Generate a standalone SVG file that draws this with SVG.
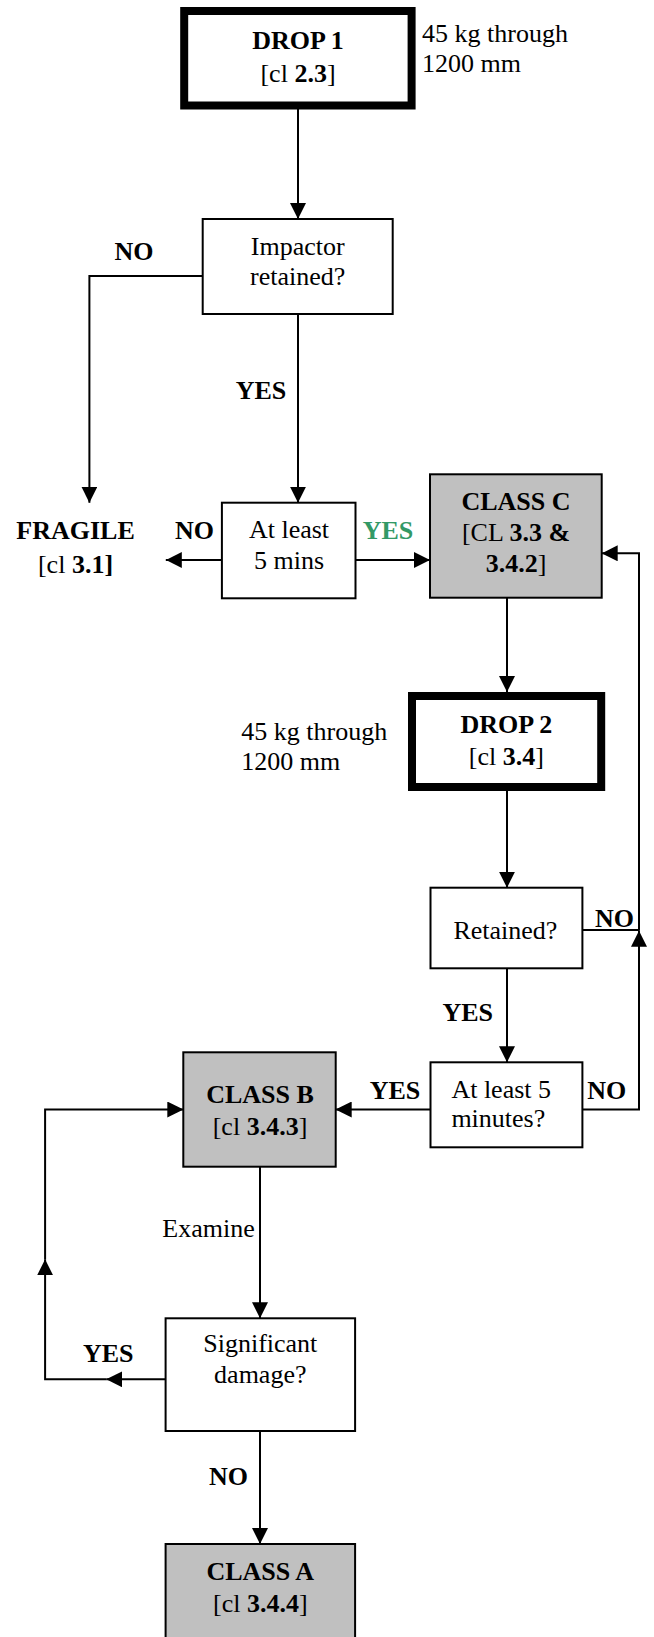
<svg xmlns="http://www.w3.org/2000/svg" width="654" height="1637" viewBox="0 0 654 1637">
<style>
text{font-family:"Liberation Serif","Times New Roman",serif;font-size:26px;fill:#000}
.b{font-weight:bold}
.c{text-anchor:middle}
.g{fill:#339966}
.box{fill:#fff;stroke:#000;stroke-width:2}
.thick{fill:#fff;stroke:#000;stroke-width:8}
.grey{fill:#c0c0c0;stroke:#000;stroke-width:2}
.ln{fill:none;stroke:#000;stroke-width:2}
.arr{marker-end:url(#ah)}
</style>
<defs>
<marker id="ah" viewBox="0 0 16 16" refX="16" refY="8" markerWidth="16" markerHeight="16" markerUnits="userSpaceOnUse" orient="auto">
<path d="M0,0 L16,8 L0,16 z" fill="#000"/>
</marker>
</defs>
<rect width="654" height="1637" fill="#fff"/>
<g id="connectors">
<path class="ln arr" d="M298,109 V219"/>
<path class="ln arr" d="M202.7,276 H89.4 V502.7"/>
<path class="ln arr" d="M298,314 V502.7"/>
<path class="ln arr" d="M221.9,560 H165.8"/>
<path class="ln arr" d="M355.5,560 H430"/>
<path class="ln arr" d="M507,597.7 V692"/>
<path class="ln arr" d="M507,791 V887.7"/>
<path class="ln" d="M582.4,930 H639"/>
<path class="ln arr" d="M507,968.3 V1062.3"/>
<path class="ln arr" d="M582.4,1109.5 H639 V930.7"/>
<path class="ln arr" d="M639,930.7 V553.3 H601.7"/>
<path class="ln arr" d="M430.5,1109.5 H335.7"/>
<path class="ln arr" d="M260,1166.7 V1318.3"/>
<path class="ln arr" d="M165.6,1379.3 H106.2"/>
<path class="ln arr" d="M106.2,1379.3 H45.1 V1259.3"/>
<path class="ln arr" d="M45.1,1259.3 V1109.5 H183.3"/>
<path class="ln arr" d="M260,1431 V1544"/>
</g>
<g id="drop1">
<rect class="thick" x="184.2" y="11" width="227.4" height="94.5"/>
<text class="b c" x="298" y="49">DROP 1</text>
<text class="c" x="298" y="82">[cl <tspan class="b">2.3</tspan>]</text>
</g>
<g id="note1">
<text x="422" y="42">45 kg through</text>
<text x="422" y="72">1200 mm</text>
</g>
<g id="impactor">
<rect class="box" x="202.7" y="219" width="190" height="95"/>
<text class="c" x="297.7" y="255">Impactor</text>
<text class="c" x="297.7" y="285">retained?</text>
</g>
<g id="label-no1"><text class="b c" x="134" y="260">NO</text></g>
<g id="label-yes1"><text class="b c" x="261" y="399">YES</text></g>
<g id="fragile">
<text class="b c" x="75.5" y="539">FRAGILE</text>
<text class="c" x="75.5" y="573">[cl <tspan class="b">3.1]</tspan></text>
</g>
<g id="label-no2"><text class="b c" x="194.6" y="539">NO</text></g>
<g id="atleast1">
<rect class="box" x="221.9" y="502.7" width="133.6" height="95.6"/>
<text class="c" x="289" y="538">At least</text>
<text class="c" x="289" y="569">5 mins</text>
</g>
<g id="label-yes2"><text class="b c g" x="388" y="539">YES</text></g>
<g id="classC">
<rect class="grey" x="430" y="474.3" width="171.7" height="123.4"/>
<text class="b c" x="516" y="510">CLASS C</text>
<text class="c" x="516" y="541">[CL <tspan class="b">3.3 &amp;</tspan></text>
<text class="c" x="516" y="572"><tspan class="b">3.4.2</tspan>]</text>
</g>
<g id="drop2">
<rect class="thick" x="412" y="696" width="189.2" height="91"/>
<text class="b c" x="506.4" y="733">DROP 2</text>
<text class="c" x="506.4" y="765">[cl <tspan class="b">3.4</tspan>]</text>
</g>
<g id="note2">
<text x="241.3" y="740">45 kg through</text>
<text x="241.3" y="770">1200 mm</text>
</g>
<g id="retained">
<rect class="box" x="430.5" y="887.7" width="151.9" height="80.6"/>
<text class="c" x="505.4" y="939">Retained?</text>
</g>
<g id="label-no3"><text class="b c" x="614.6" y="927">NO</text></g>
<g id="label-yes3"><text class="b c" x="467.7" y="1021">YES</text></g>
<g id="atleast2">
<rect class="box" x="430.5" y="1062.3" width="151.9" height="85"/>
<text x="451.4" y="1098">At least 5</text>
<text x="451.4" y="1127">minutes?</text>
</g>
<g id="label-no4"><text class="b c" x="606.7" y="1099">NO</text></g>
<g id="label-yes4"><text class="b c" x="395" y="1099">YES</text></g>
<g id="classB">
<rect class="grey" x="183.3" y="1052.3" width="152.4" height="114.4"/>
<text class="b c" x="260" y="1103">CLASS B</text>
<text class="c" x="260" y="1135">[cl <tspan class="b">3.4.3</tspan>]</text>
</g>
<g id="label-examine"><text class="c" x="208.5" y="1237">Examine</text></g>
<g id="significant">
<rect class="box" x="165.6" y="1318.3" width="189.5" height="112.7"/>
<text class="c" x="260.3" y="1352">Significant</text>
<text class="c" x="260.3" y="1383">damage?</text>
</g>
<g id="label-yes5"><text class="b c" x="108.2" y="1362">YES</text></g>
<g id="label-no5"><text class="b c" x="228.4" y="1485">NO</text></g>
<g id="classA">
<rect class="grey" x="165.6" y="1544" width="189.5" height="110"/>
<text class="b c" x="260.3" y="1580">CLASS A</text>
<text class="c" x="260.3" y="1612">[cl <tspan class="b">3.4.4</tspan>]</text>
</g>
</svg>
